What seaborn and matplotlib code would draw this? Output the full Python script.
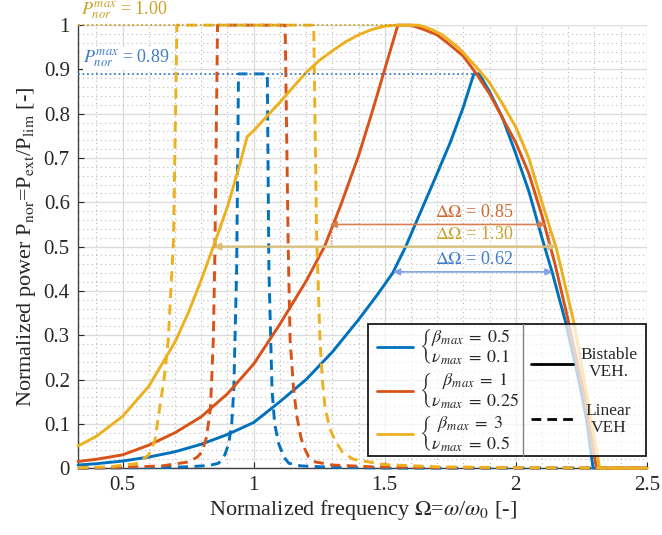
import pandas as pd
import matplotlib
matplotlib.use("Agg")
import matplotlib.pyplot as plt
import seaborn as sns
from matplotlib.patches import Rectangle
from matplotlib.ticker import MultipleLocator

# Style
sns.set_style("whitegrid")
plt.rcParams["font.family"] = ["Liberation Serif", "DejaVu Serif"]
plt.rcParams["mathtext.fontset"] = "stix"

# ---- data ----
cases = ["b05", "b1", "b3"]
case_colors = ["#0072BD", "#D95319", "#EDB120"]

# bistable VEH (solid)
bi_b05_x = [0.33, 0.4, 0.5, 0.6, 0.7, 0.8, 0.9, 1.0, 1.1, 1.2, 1.3, 1.4, 1.47, 1.53, 1.58, 1.62, 1.66,
            1.7, 1.75, 1.8, 1.84, 1.86, 1.9, 1.95, 2.0, 2.05, 2.1, 2.14, 2.19, 2.24, 2.27, 2.295, 2.5]
bi_b05_y = [0.007, 0.01, 0.016, 0.025, 0.037, 0.054, 0.076, 0.103, 0.15, 0.2, 0.262, 0.335, 0.39, 0.44,
            0.5, 0.555, 0.61, 0.665, 0.735, 0.815, 0.89, 0.89, 0.85, 0.79, 0.71, 0.625, 0.52, 0.44,
            0.33, 0.2, 0.11, 0.0, 0.0]

bi_b1_x = [0.33, 0.4, 0.5, 0.6, 0.7, 0.8, 0.9, 1.0, 1.1, 1.2, 1.27, 1.33, 1.4, 1.45, 1.5, 1.55, 1.6,
           1.65, 1.7, 1.75, 1.8, 1.85, 1.9, 1.95, 2.0, 2.05, 2.1, 2.15, 2.2, 2.26, 2.308, 2.5]
bi_b1_y = [0.015, 0.02, 0.03, 0.052, 0.08, 0.116, 0.168, 0.235, 0.325, 0.422, 0.5, 0.59, 0.705, 0.8, 0.9,
           1.0, 1.0, 0.99, 0.978, 0.955, 0.93, 0.89, 0.845, 0.79, 0.735, 0.665, 0.57, 0.46, 0.334,
           0.17, 0.0, 0.0]

bi_b3_x = [0.33, 0.4, 0.5, 0.6, 0.7, 0.75, 0.8, 0.846, 0.9, 0.943, 0.975, 1.0, 1.05, 1.1, 1.15, 1.2,
           1.25, 1.3, 1.35, 1.4, 1.45, 1.5, 1.55, 1.63, 1.68, 1.72, 1.78, 1.85, 1.9, 1.95, 2.0, 2.05,
           2.1, 2.155, 2.22, 2.27, 2.32, 2.5]
bi_b3_y = [0.05, 0.072, 0.117, 0.185, 0.285, 0.35, 0.425, 0.5, 0.59, 0.677, 0.748, 0.762, 0.794, 0.826,
           0.86, 0.893, 0.92, 0.942, 0.962, 0.978, 0.99, 0.998, 1.0, 1.0, 0.99, 0.978, 0.95, 0.905,
           0.87, 0.822, 0.77, 0.7, 0.6, 0.496, 0.334, 0.17, 0.0, 0.0]

# linear VEH (dashed)
lin_b05_x = [0.33, 0.6, 0.75, 0.83, 0.866, 0.89, 0.905, 0.916, 0.924, 0.935, 0.942, 1.052, 1.058, 1.07,
             1.08, 1.095, 1.115, 1.134, 1.18, 1.3, 1.5, 2.5]
lin_b05_y = [0.0, 0.001, 0.003, 0.006, 0.011, 0.03, 0.056, 0.1, 0.176, 0.45, 0.89, 0.89, 0.45, 0.176,
             0.1, 0.056, 0.025, 0.011, 0.005, 0.002, 0.0, 0.0]

lin_b1_x = [0.33, 0.5, 0.65, 0.752, 0.785, 0.803, 0.82, 0.835, 0.846, 0.852, 0.862, 1.12, 1.132, 1.139,
            1.152, 1.165, 1.18, 1.191, 1.21, 1.235, 1.3, 1.45, 1.7, 2.5]
lin_b1_y = [0.0, 0.002, 0.005, 0.014, 0.025, 0.037, 0.07, 0.135, 0.289, 0.49, 1.0, 1.0, 0.49, 0.289,
            0.18, 0.116, 0.07, 0.048, 0.025, 0.014, 0.007, 0.003, 0.001, 0.0]

lin_b3_x = [0.33, 0.45, 0.553, 0.6, 0.623, 0.642, 0.66, 0.674, 0.694, 0.707, 1.229, 1.24, 1.253, 1.262,
            1.272, 1.29, 1.31, 1.34, 1.38, 1.5, 1.7, 2.0, 2.5]
lin_b3_y = [0.001, 0.003, 0.01, 0.03, 0.063, 0.138, 0.21, 0.289, 0.515, 1.0, 1.0, 0.528, 0.289, 0.2,
            0.138, 0.09, 0.063, 0.035, 0.02, 0.008, 0.003, 0.001, 0.0]

# maximum power levels and bandwidths
pmax_values = [1.00, 0.89]
pmax_ends = [1.55, 1.84]
pmax_colors = ["#C9A227", "#3D7CC9"]
delta_labels = ["0.85", "1.30", "0.62"]
delta_levels = [0.55, 0.50, 0.443]
delta_left = [1.29, 0.846, 1.532]
delta_right = [2.115, 2.155, 2.14]
delta_text_colors = ["#D0682E", "#C9A227", "#3D7CC9"]
delta_arrow_colors = ["#D98050", "#D8C07A", "#7FA2E2"]

# legend text
legend_cases = [r"$\left\{\genfrac{}{}{0}{0}{\beta_{max}\;=\;0.5}{\nu_{max}\;=\;0.1}\right.$",
                r"$\left\{\genfrac{}{}{0}{0}{\beta_{max}\;=\;1}{\nu_{max}\;=\;0.25}\right.$",
                r"$\left\{\genfrac{}{}{0}{0}{\beta_{max}\;=\;3}{\nu_{max}\;=\;0.5}\right.$"]
legend_models = ["Bistable\nVEH.", "Linear\nVEH"]

x_ticks = [0.5, 1, 1.5, 2, 2.5]
x_tick_labels = ["0.5", "1", "1.5", "2", "2.5"]
y_ticks = [0, 0.1, 0.2, 0.3, 0.4, 0.5, 0.6, 0.7, 0.8, 0.9, 1.0]
y_tick_labels = ["0", "0.1", "0.2", "0.3", "0.4", "0.5", "0.6", "0.7", "0.8", "0.9", "1"]

# build one long table for seaborn
series = [
    ("b05", "Bistable", bi_b05_x, bi_b05_y), ("b1", "Bistable", bi_b1_x, bi_b1_y),
    ("b3", "Bistable", bi_b3_x, bi_b3_y), ("b05", "Linear", lin_b05_x, lin_b05_y),
    ("b1", "Linear", lin_b1_x, lin_b1_y), ("b3", "Linear", lin_b3_x, lin_b3_y),
]
frames = []
for case, model, xs, ys in series:
    frames.append(pd.DataFrame({"omega": xs, "power": ys, "case": case, "model": model}))
df = pd.concat(frames, ignore_index=True)

fig, ax = plt.subplots(figsize=(6.62, 5.35), dpi=100)
fig.subplots_adjust(left=0.118, right=0.977, bottom=0.125, top=0.953)

sns.lineplot(data=df, x="omega", y="power", hue="case", style="model",
             hue_order=cases, palette=case_colors, style_order=["Linear", "Bistable"],
             dashes={"Bistable": "", "Linear": (3.5, 2.2)}, estimator=None, sort=False,
             lw=2.1, legend=False, clip_on=False, ax=ax, zorder=3)

# dotted max-power levels
for val, end, col in zip(pmax_values, pmax_ends, pmax_colors):
    ax.plot([0.33, end], [val, val], ls=(0, (1, 1.5)), color=col, lw=1.3, clip_on=False, zorder=4)
ax.text(0.34, 1.033, r"$P_{nor}^{max}$ = 1.00", color=pmax_colors[0], fontsize=13,
        va="center", ha="left", clip_on=False)
ax.text(0.35, 0.925, r"$P_{nor}^{max}$ = 0.89", color=pmax_colors[1], fontsize=13,
        va="center", ha="left", zorder=5,
        bbox=dict(facecolor="white", edgecolor="none", pad=0.5))

# bandwidth arrows
for lab, lev, xl, xr, tc, ac in zip(delta_labels, delta_levels, delta_left, delta_right,
                                     delta_text_colors, delta_arrow_colors):
    lw = 1.6 if lab == "1.30" else 1.2
    ax.annotate("", xy=(xl, lev), xytext=(xr, lev),
                arrowprops=dict(arrowstyle="<|-|>", color=ac, lw=lw, shrinkA=0, shrinkB=0,
                                mutation_scale=10), zorder=5)
    ax.text(1.84, lev + 0.027, r"$\Delta\Omega$ = " + lab, color=tc, fontsize=13,
            ha="center", va="center", zorder=5)
# small dotted ties of the orange arrow
for xv in [delta_left[0] + 0.005, delta_right[0] + 0.01]:
    ax.plot([xv, xv], [0.507, 0.545], ls=(0, (1, 1)), color="#D98050", lw=1.0, zorder=5)

# axes styling
ax.set_xlim(0.33, 2.5)
ax.set_ylim(0, 1)
ax.set_xticks(x_ticks)
ax.set_xticklabels(x_tick_labels)
ax.set_yticks(y_ticks)
ax.set_yticklabels(y_tick_labels)
ax.xaxis.set_minor_locator(MultipleLocator(0.1))
ax.yaxis.set_minor_locator(MultipleLocator(0.02))
ax.grid(which="major", color="#DCDCDC", lw=1.0, ls="-")
ax.grid(which="minor", color="#B8B8B8", lw=0.8, ls=(0, (1, 3)))
ax.tick_params(which="major", direction="in", length=4, width=0.8, labelsize=15,
               colors="#262626", left=True, bottom=True, pad=6)
ax.tick_params(which="minor", length=0)
for side in ["top", "right"]:
    ax.spines[side].set_visible(False)
for side in ["left", "bottom"]:
    ax.spines[side].set_color("#404040")
    ax.spines[side].set_linewidth(1.0)
ax.set_xlabel(r"Normalized frequency $\Omega$=$\omega$/$\omega_0$ [-]", fontsize=16,
              color="#262626", labelpad=2)
ax.set_ylabel(r"Normalized power P$_{\mathrm{nor}}$=P$_{\mathrm{ext}}$/P$_{\mathrm{lim}}$ [-]",
              fontsize=16, color="#262626", labelpad=4)

# custom legend box
T = ax.transAxes
ax.add_patch(Rectangle((0.51, 0.027), 0.488, 0.298, transform=T, facecolor="white", alpha=0.72,
                       edgecolor="none", zorder=6, clip_on=False))
ax.add_patch(Rectangle((0.51, 0.027), 0.488, 0.298, transform=T, facecolor="none",
                       edgecolor="#1A1A1A", lw=1.3, zorder=7, clip_on=False))
ax.plot([0.782, 0.782], [0.027, 0.325], transform=T, color="#808080", lw=1.0, zorder=7)
for lab, col, yy in zip(legend_cases, case_colors, [0.274, 0.174, 0.078]):
    ax.plot([0.525, 0.589], [yy, yy], transform=T, color=col, lw=2.0, zorder=8)
    ax.text(0.6, yy, lab, transform=T, fontsize=13, ha="left", va="center", zorder=8)
for lab, ls, yy in zip(legend_models, ["-", (0, (3.5, 2.2))], [0.236, 0.11]):
    ax.plot([0.797, 0.871], [yy, yy], transform=T, color="black", lw=2.0, ls=ls, zorder=8)
    ax.text(0.933, yy, lab, transform=T, fontsize=12.5, ha="center", va="center",
            linespacing=1.1, zorder=8)

fig.savefig("out.png", dpi=100)
